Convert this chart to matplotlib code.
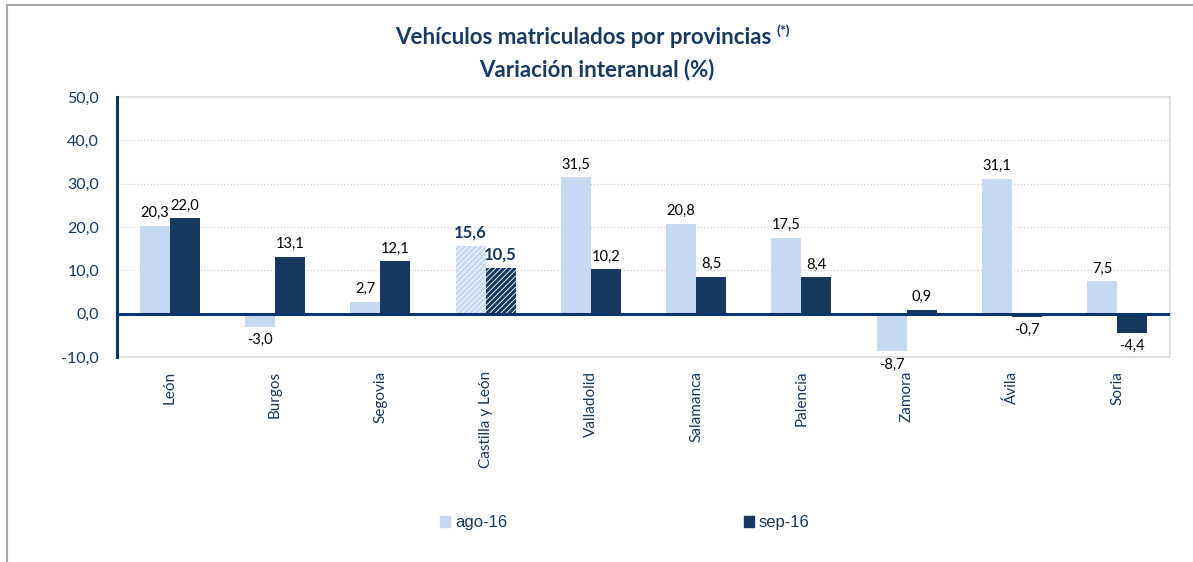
import matplotlib
matplotlib.use("Agg")
import matplotlib.pyplot as plt
import numpy as np
from matplotlib.patches import Patch

categories = ["León", "Burgos", "Segovia", "Castilla y León", "Valladolid",
              "Salamanca", "Palencia", "Zamora", "Ávila", "Soria"]
ago16 = [20.3, -3.0, 2.7, 15.6, 31.5, 20.8, 17.5, -8.7, 31.1, 7.5]
sep16 = [22.0, 13.1, 12.1, 10.5, 10.2, 8.5, 8.4, 0.9, -0.7, -4.4]
series_names = ["ago-16", "sep-16"]
yticks = [-10, 0, 10, 20, 30, 40, 50]
highlight = "Castilla y León"

LIGHT = "#C6D9F1"
DARK = "#17375E"
TXT = "#17375E"

plt.rcParams['font.family'] = ['Lato', 'DejaVu Sans']
plt.rcParams['hatch.linewidth'] = 2.2

fig = plt.figure(figsize=(11.93, 5.62), dpi=100)
ax = fig.add_axes([117/1193, 1-357/562, (1170-117)/1193, (357-97)/562])

x = np.arange(len(categories))
w = 0.285
for i, cat in enumerate(categories):
    if cat == highlight:
        ax.bar(x[i]-w/2, ago16[i], w, facecolor="white", edgecolor=LIGHT, hatch="//////", linewidth=0, zorder=3)
        ax.bar(x[i]+w/2, sep16[i], w, facecolor="white", edgecolor=DARK, hatch="//////", linewidth=0, zorder=3)
    else:
        ax.bar(x[i]-w/2, ago16[i], w, color=LIGHT, zorder=3)
        ax.bar(x[i]+w/2, sep16[i], w, color=DARK, zorder=3)

def fmt(v):
    return f"{v:.1f}".replace(".", ",")

for i, cat in enumerate(categories):
    for off, v in ((-w/2, ago16[i]), (w/2, sep16[i])):
        bold = cat == highlight
        if v >= 0:
            ax.text(x[i]+off, v+1.3, fmt(v), ha="center", va="bottom",
                    fontsize=12 if bold else 10.5, fontweight="bold" if bold else "normal",
                    color=TXT if bold else "black", zorder=5)
        else:
            ax.text(x[i]+off, v-1.4, fmt(v), ha="center", va="top",
                    fontsize=10.5, color="black", zorder=5)

ax.set_xlim(-0.5, len(categories)-0.5)
ax.set_ylim(-10, 50)
ax.set_yticks(yticks)
ax.set_yticklabels([fmt(t) for t in yticks], fontsize=11.5, color=TXT)
ax.set_xticks(x)
ax.set_xticklabels(categories, rotation=90, fontsize=11, color=TXT, va="top")
ax.tick_params(axis="x", length=0, pad=10)
ax.tick_params(axis="y", length=0, pad=13)

for t in [10, 20, 30, 40]:
    ax.axhline(t, color="#C8C8C8", lw=0.8, ls=(0, (1, 2)), zorder=1)
ax.axhline(0, color="#0B3470", lw=2.2, zorder=4)

for s in ["top", "right", "bottom"]:
    ax.spines[s].set_color("#D9D9D9")
    ax.spines[s].set_linewidth(1.2)
ax.spines["left"].set_color("#0B3470")
ax.spines["left"].set_linewidth(2.2)
ax.spines["left"].set_zorder(6)

TITLE_C = "#1A3A66"
t1 = fig.text(395/1193, 1-38/562, "Vehículos matriculados por provincias", ha="left", va="center",
              fontsize=16, fontweight="bold", color=TITLE_C)
fig.canvas.draw()
bb = t1.get_window_extent()
fig.text((bb.x1 + 5)/1193, 1-31/562, "(*)", ha="left", va="center",
         fontsize=10, fontweight="bold", color=TITLE_C)
fig.text(597/1193, 1-70/562, "Variación interanual (%)", ha="center", va="center",
         fontsize=16, fontweight="bold", color=TITLE_C)

handles = [Patch(color=LIGHT), Patch(color=DARK)]
leg = fig.legend(handles, series_names, loc="center", bbox_to_anchor=(625/1193, 1-523/562),
                 ncol=2, frameon=False, handlelength=0.6, handleheight=0.6, handletextpad=0.3,
                 columnspacing=14.2, prop={"family": "Liberation Sans", "size": 12})
for t in leg.get_texts():
    t.set_color(TXT)

fig.add_artist(plt.Line2D([7/1193, 7/1193], [0, 1-5/562], color="#A6A6A6", lw=1.5, transform=fig.transFigure))
fig.add_artist(plt.Line2D([7/1193, 1], [1-5/562, 1-5/562], color="#A6A6A6", lw=1.5, transform=fig.transFigure))

fig.savefig("out.png", dpi=100)
